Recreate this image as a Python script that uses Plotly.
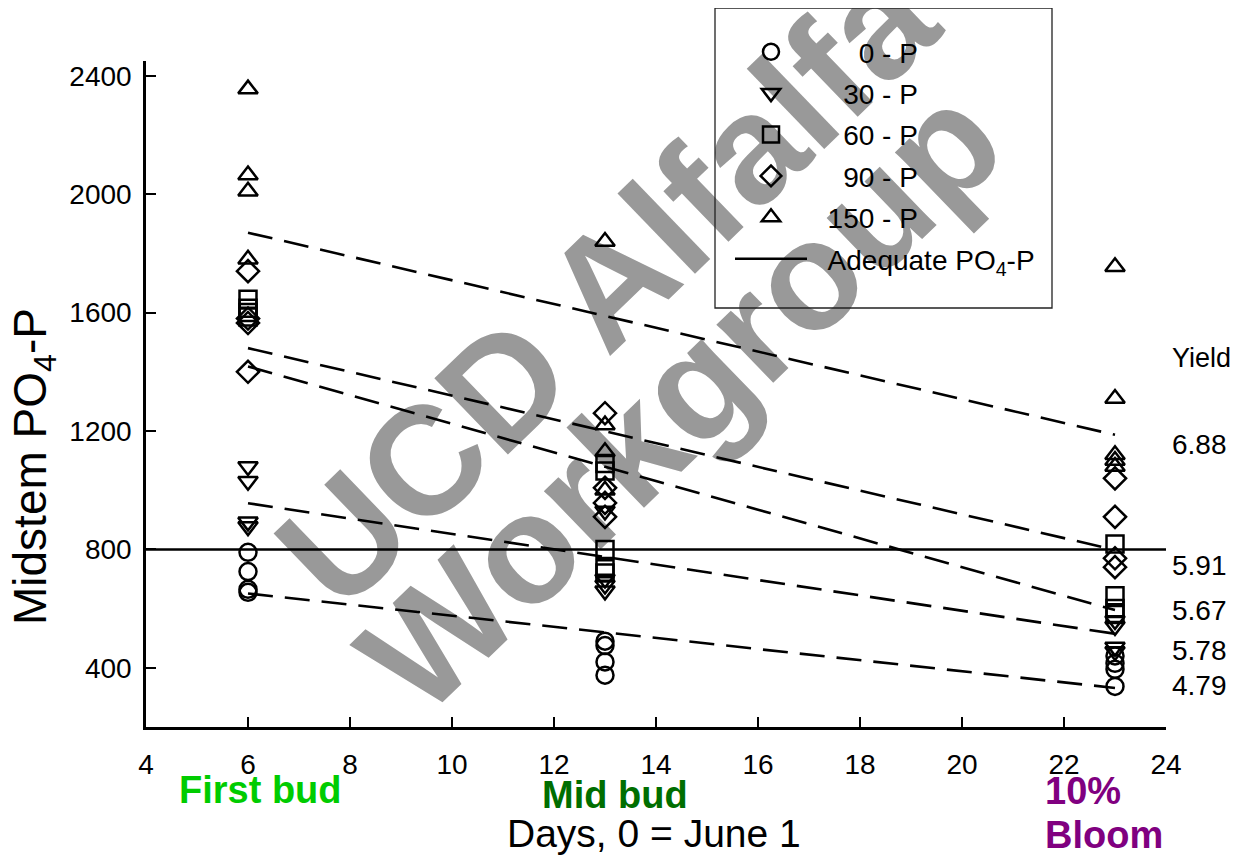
import plotly.graph_objects as go

# ---------------- data ----------------
days = [6, 13, 23]
treatments = ["0 - P", "30 - P", "60 - P", "90 - P", "150 - P"]
PAD = "\u00a0\u00a0"
legend_labels = [PAD + "\u2007\u20070 - P", PAD + "\u200730 - P", PAD + "\u200760 - P",
                 PAD + "\u200790 - P", PAD + "150 - P"]

# midstem PO4-P replicate values at day 6, 13, 23
po4_0p = [[790, 725, 665, 655], [490, 475, 420, 375], [440, 415, 395, 337]]
po4_30p = [[1080, 1030, 893, 877], [930, 700, 680, 660], [560, 540, 470, 455]]
po4_60p = [[1645, 1615, 1600, 1585], [1090, 1065, 800, 735, 720], [818, 643, 600, 580]]
po4_90p = [[1740, 1580, 1565, 1400], [1260, 1008, 957, 910], [1040, 910, 770, 740]]
po4_150p = [[2355, 2065, 2010, 1780], [1840, 1220, 1130, 1000], [1755, 1310, 1120, 1100, 1080]]
all_series = [po4_0p, po4_30p, po4_60p, po4_90p, po4_150p]

# regression lines (value at day 6 and day 23)
fit_day6 = [651, 956, 1418, 1480, 1870]
fit_day23 = [332, 515, 595, 798, 1187]
yields = ["4.79", "5.78", "5.67", "5.91", "6.88"]
adequate_po4 = 800

x_ticks = [4, 6, 8, 10, 12, 14, 16, 18, 20, 22, 24]
y_ticks = [400, 800, 1200, 1600, 2000, 2400]

# ---------------- styling ----------------
symbols = ["circle-open", "triangle-down-open", "square-open", "diamond-open", "triangle-up-open"]
FONT = "Liberation Sans, Arial, sans-serif"

fig = go.Figure()

# dashed regression lines
for i in range(len(treatments)):
    fig.add_trace(go.Scatter(
        x=[days[0], days[-1]], y=[fit_day6[i], fit_day23[i]],
        mode="lines", line=dict(color="black", width=2.6, dash="25px,12px"),
        showlegend=False, hoverinfo="skip"))

# adequate line
fig.add_trace(go.Scatter(
    x=[x_ticks[0], x_ticks[-1]], y=[adequate_po4, adequate_po4],
    mode="lines", line=dict(color="black", width=2.5),
    name=PAD + "Adequate PO<sub>4</sub>-P", legendrank=6, legendgroup="g6"))

# markers
for i, series in enumerate(all_series):
    xs, ys = [], []
    for d, vals in zip(days, series):
        xs += [d] * len(vals)
        ys += vals
    fig.add_trace(go.Scatter(
        x=xs, y=ys, mode="markers", name=legend_labels[i], legendrank=i + 1,
        legendgroup="g%d" % (i + 1),
        marker=dict(symbol=symbols[i], size=17, color="black",
                    line=dict(color="black", width=2.5))))

# ---------------- layout ----------------
# the page body has an 8px margin; figure is sized/offset so the plot area
# sits at page pixels x 146..1166, y 61..727
W, H = 1223, 850
L, T = 138, 53
PW, PH = 1020, 666
R, B = W - L - PW, H - T - PH


def px_x(px):
    return (px - 146) / PW


def px_y(py):
    return (727 - py) / PH


fig.update_layout(
    width=W, height=H,
    margin=dict(l=L, r=R, t=T, b=B, autoexpand=False),
    paper_bgcolor="white", plot_bgcolor="white",
    font=dict(family=FONT, color="black"),
    showlegend=True,
    legend=dict(x=px_x(715), y=px_y(27), xanchor="left", yanchor="top",
                bgcolor="rgba(0,0,0,0)", borderwidth=0,
                font=dict(size=28, family=FONT), itemwidth=72,
                indentation=15, traceorder="grouped", tracegroupgap=2),
    xaxis=dict(range=[4, 24], tickvals=x_ticks, ticks="inside", ticklen=10, tickwidth=2,
               tickcolor="black", showline=True, linewidth=2.5, linecolor="black",
               showgrid=False, zeroline=False, tickfont=dict(size=28, family=FONT),
               ticklabelstandoff=11),
    yaxis=dict(range=[200, 2450], tickvals=y_ticks, ticks="inside", ticklen=10, tickwidth=2,
               tickcolor="black", showline=True, linewidth=2.5, linecolor="black",
               showgrid=False, zeroline=False, tickfont=dict(size=28, family=FONT),
               ticklabelstandoff=6),
)

# legend frame
fig.add_shape(type="rect", xref="paper", yref="paper",
              x0=px_x(715), x1=px_x(1052), y0=px_y(308), y1=px_y(8),
              line=dict(color="#222222", width=1.3), fillcolor="rgba(0,0,0,0)", layer="above")

# watermark (below the data)
wm_font = dict(family=FONT, size=154, color="#999999")
for text, cx, cy in [("<b>UCD Alfalfa</b>", 596, 275), ("<b>Workgroup</b>", 670, 388)]:
    fig.add_shape(type="rect", xref="paper", yref="paper",
                  x0=px_x(cx - 5), x1=px_x(cx + 5), y0=px_y(cy + 5), y1=px_y(cy - 5),
                  line=dict(width=0), fillcolor="rgba(0,0,0,0)", layer="below",
                  label=dict(text=text, font=wm_font, textangle=-44,
                             textposition="middle center"))


def label(text, x, y, size, color="black", xanchor="center", angle=0, yref="paper"):
    return dict(text=text, xref="paper", yref=yref, x=x, y=y, xanchor=xanchor,
                yanchor="middle", textangle=angle, showarrow=False,
                font=dict(size=size, family=FONT, color=color))


ann = [
    label("Midstem PO<sub>4</sub>-P", px_x(33), px_y(467), 46, angle=-90),
    label("Days, 0 = June 1", px_x(654), px_y(833), 39),
    label("<b>First bud</b>", px_x(260), px_y(790), 38, "#00cc00"),
    label("<b>Mid bud</b>", px_x(615), px_y(795), 38, "#006e00"),
    label("<b>10%</b>", px_x(1043), px_y(791), 38, "#800080", xanchor="left"),
    label("<b>Bloom</b>", px_x(1043), px_y(835), 38, "#800080", xanchor="left"),
    label("Yield", px_x(1170), 1448, 27, xanchor="left", yref="y"),
]
yield_label_y = [341, 459, 595, 747, 1153]
for t, yy in zip(yields, yield_label_y):
    ann.append(label(t, px_x(1170), yy, 28, xanchor="left", yref="y"))
fig.update_layout(annotations=ann)

fig.write_html("out.html")
